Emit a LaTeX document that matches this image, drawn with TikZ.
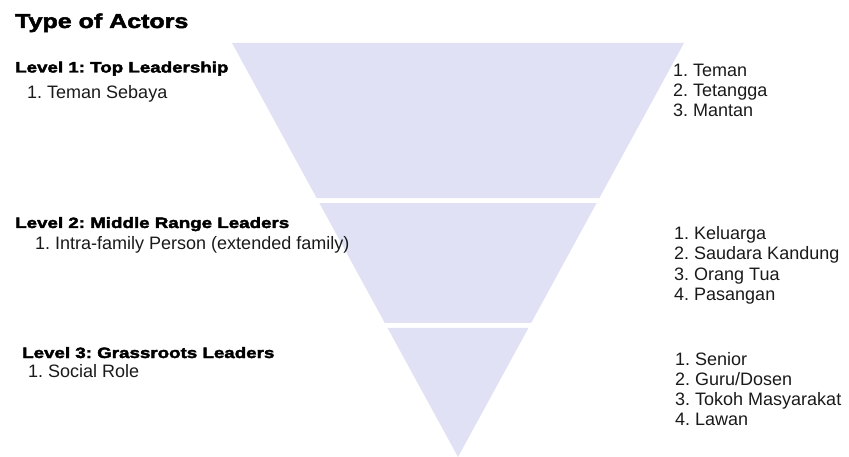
\documentclass[tikz,border=0pt]{standalone}
\usepackage{fontspec}
\setmainfont{Liberation Sans}
\newfontfamily\heavy[FakeBold=2.5,FakeStretch=1.25]{Liberation Sans Bold}
\usetikzlibrary{calc}
\definecolor{band}{HTML}{E1E1F5}
\definecolor{ink}{HTML}{1A1A1A}
\tikzset{
  title/.style={anchor=base west,inner sep=0pt,font=\heavy\fontsize{20}{24}\selectfont,text=black},
  level/.style={anchor=base west,inner sep=0pt,font=\heavy\fontsize{15}{18}\selectfont,text=black},
  item/.style={anchor=base west,inner sep=0pt,font=\fontsize{18}{20}\selectfont,text=ink},
  bandfill/.style={fill=band,draw=none}
}
\begin{document}
\frenchspacing
\begin{tikzpicture}[x=1pt,y=-1pt]
\useasboundingbox (0,0) rectangle (849,457);
% triangle corners
\coordinate (A) at (458,457);
\coordinate (L) at (232,43);
\coordinate (R) at (684,43);
% band 1
\fill[bandfill] (L) -- (R) -- ($(A)!0.6256!(R)$) -- ($(A)!0.6256!(L)$) -- cycle;
% band 2
\fill[bandfill] ($(A)!0.6135!(L)$) -- ($(A)!0.6135!(R)$) -- ($(A)!0.3237!(R)$) -- ($(A)!0.3237!(L)$) -- cycle;
% band 3
\fill[bandfill] ($(A)!0.3116!(L)$) -- ($(A)!0.3116!(R)$) -- (A) -- cycle;

\node[title] (t) at (15,28) {Type of Actors};

\node[level] (l1) at (15,72.5) {Level 1: Top Leadership};
\node[item] (i1) at (27,99) {1. Teman Sebaya};

\node[level] (l2) at (15,228) {Level 2: Middle Range Leaders};
\node[item] (i2) at (35,250) {1. Intra-family Person (extended family)};

\node[level] (l3) at (22,358) {Level 3: Grassroots Leaders};
\node[item] (i3) at (28,377) {1. Social Role};

\node[item] (r11) at (673,77) {1. Teman};
\node[item] (r12) at (673,97) {2. Tetangga};
\node[item] (r13) at (673,117) {3. Mantan};

\node[item] (r21) at (674,240) {1. Keluarga};
\node[item] (r22) at (674,260) {2. Saudara Kandung};
\node[item] (r23) at (674,280) {3. Orang Tua};
\node[item] (r24) at (674,300) {4. Pasangan};

\node[item] (r31) at (675,365) {1. Senior};
\node[item] (r32) at (675,385) {2. Guru/Dosen};
\node[item] (r33) at (675,405) {3. Tokoh Masyarakat};
\node[item] (r34) at (675,425) {4. Lawan};
\end{tikzpicture}
\end{document}
